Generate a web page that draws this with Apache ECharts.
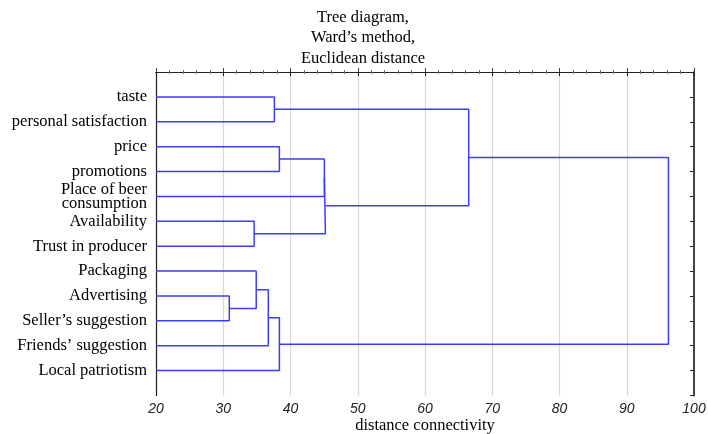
<!DOCTYPE html>
<html>
<head>
<meta charset="utf-8">
<script src="https://cdn.jsdelivr.net/npm/echarts@6/dist/echarts.min.js"></script>
<style>
html,body{margin:0;padding:0;background:#fff;}
#chart{width:708px;height:434px;}
</style>
</head>
<body>
<div id="chart"></div>
<script>
// Leaf labels, top to bottom
var leafLabels = [
  "taste",
  "personal satisfaction",
  "price",
  "promotions",
  "Place of beer\nconsumption",
  "Availability",
  "Trust in producer",
  "Packaging",
  "Advertising",
  "Seller\u2019s suggestion",
  "Friends\u2019 suggestion",
  "Local patriotism"
];
// Merges: [childA, childB] (indices: 0-11 leaves, 12+ merged clusters)
var mergeChildren = [
  [8, 9],    // 12
  [5, 6],    // 13
  [7, 12],   // 14
  [14, 10],  // 15
  [0, 1],    // 16
  [2, 3],    // 17
  [15, 11],  // 18
  [17, 4],   // 19
  [19, 13],  // 20
  [16, 20],  // 21
  [21, 18]   // 22
];
// Linkage distance for each merge
var mergeHeights = [30.9, 34.6, 34.9, 36.7, 37.6, 38.35, 38.35, 45.04, 45.19, 66.5, 96.2];
var xTicks = [20, 30, 40, 50, 60, 70, 80, 90, 100];

var leafBase = xTicks[0];
var nodeX = [], nodeY = [];
for (var i = 0; i < leafLabels.length; i++) { nodeX.push(leafBase); nodeY.push(i + 1); }
var series = [];
mergeChildren.forEach(function (m, k) {
  var a = m[0], b = m[1], h = mergeHeights[k];
  series.push({
    type: 'line',
    symbol: 'none',
    silent: true,
    lineStyle: { color: '#3c3cff', width: 1.5 },
    data: [[nodeX[a], nodeY[a]], [h, nodeY[a]], [h, nodeY[b]], [nodeX[b], nodeY[b]]]
  });
  nodeX.push(h);
  nodeY.push((nodeY[a] + nodeY[b]) / 2);
});

var chart = echarts.init(document.getElementById('chart'), null, { renderer: 'canvas' });
var axisCommonX = {
  type: 'value', min: xTicks[0], max: xTicks[xTicks.length - 1], interval: 10
};
chart.setOption({
  animation: false,
  backgroundColor: '#fff',
  title: {
    text: 'Tree diagram,\nWard\u2019s method,\nEuclidean distance',
    left: 358, top: 2, textAlign: 'center',
    textStyle: { fontFamily: 'Liberation Serif', fontSize: 16.5, fontWeight: 'normal', color: '#000', lineHeight: 20.5 }
  },
  grid: { left: 156, right: 14, top: 72, bottom: 38.5, outerBoundsMode: 'none', containLabel: false },
  xAxis: [
    Object.assign({}, axisCommonX, {
      position: 'bottom',
      name: 'distance connectivity', nameLocation: 'middle', nameGap: 22, nameMoveOverlap: false,
      nameTextStyle: { fontFamily: 'Liberation Serif', fontSize: 16.5, color: '#000' },
      axisLine: { lineStyle: { color: '#222', width: 1.2 } },
      axisTick: { inside: true, length: 4, lineStyle: { color: '#444' } },
      minorTick: { show: true, splitNumber: 5, length: 2, lineStyle: { color: '#666' } },
      axisLabel: { fontFamily: 'Liberation Sans', fontStyle: 'italic', fontSize: 14, color: '#222', margin: 7 },
      splitLine: { show: true, lineStyle: { color: '#d8d8d8', width: 1.2 } }
    }),
    Object.assign({}, axisCommonX, {
      position: 'top',
      axisLine: { lineStyle: { color: '#222', width: 1.2 } },
      axisTick: { inside: true, length: 4, lineStyle: { color: '#222' } },
      minorTick: { show: true, splitNumber: 5, length: 2, lineStyle: { color: '#777' } },
      axisLabel: { show: false },
      splitLine: { show: false }
    })
  ],
  yAxis: [
    {
      type: 'value', min: 0, max: 13, interval: 1, inverse: true, position: 'left',
      axisLine: { show: true, lineStyle: { color: '#222', width: 1.2 } },
      axisTick: { show: false },
      splitLine: { show: false },
      axisLabel: {
        margin: 9, fontFamily: 'Liberation Serif', fontSize: 16.5, color: '#000', lineHeight: 14,
        formatter: function (v) { return (v >= 1 && v <= leafLabels.length) ? leafLabels[v - 1] : ''; }
      }
    },
    {
      type: 'value', min: 0, max: 13, interval: 1, inverse: true, position: 'right',
      axisLine: { show: true, lineStyle: { color: '#444', width: 2 } },
      axisTick: { show: true, inside: true, length: 4, lineStyle: { color: '#222' } },
      splitLine: { show: false },
      axisLabel: { show: false }
    }
  ],
  series: series
});
</script>
</body>
</html>
